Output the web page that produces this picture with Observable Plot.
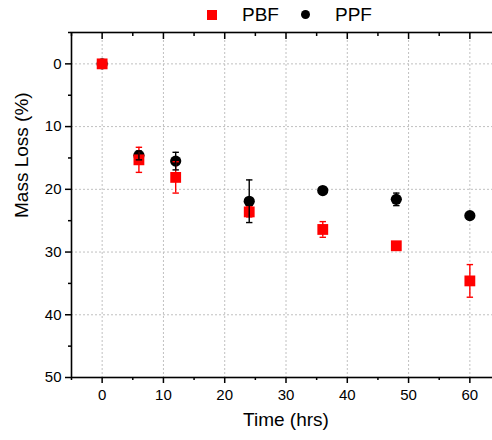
<!DOCTYPE html>
<html>
<head>
<meta charset="utf-8">
<script src="https://cdn.jsdelivr.net/npm/d3@7"></script>
<script src="https://cdn.jsdelivr.net/npm/@observablehq/plot@0.6"></script>
<style>
  html, body { margin: 0; padding: 0; overflow: hidden; background: #fff; width: 492px; height: 440px; }
  #wrap { position: relative; width: 500px; font-family: "Liberation Sans", Arial, sans-serif; }
  #legend { position: relative; height: 30px; }
  .lg { position: absolute; font-size: 19px; line-height: 19px; color: #000; }
  svg { display: block; }
</style>
</head>
<body>
<div id="wrap">
  <div id="legend"></div>
  <div id="chart"></div>
</div>
<script>
const times = [0, 6, 12, 24, 36, 48, 60];
const pbfMean = [0, 15.3, 18.1, 23.6, 26.4, 29.0, 34.6];
const pbfErr  = [0, 2.0, 2.5, 0.8, 1.25, 0.4, 2.6];
const ppfMean = [0, 14.6, 15.5, 21.9, 20.2, 21.6, 24.2];
const ppfErr  = [0, 0.7, 1.4, 3.4, 0.4, 1.0, 0.5];
const seriesNames = ["PBF", "PPF"];
const xMajor = [0, 10, 20, 30, 40, 50, 60];
const xMinor = [-5, 5, 15, 25, 35, 45, 55, 65];
const yMajor = [0, 10, 20, 30, 40, 50];
const yMinor = [-5, 5, 15, 25, 35, 45];

const pbf = times.map((t, i) => ({t, v: pbfMean[i], lo: pbfMean[i] - pbfErr[i], hi: pbfMean[i] + pbfErr[i], e: pbfErr[i]}));
const ppf = times.map((t, i) => ({t, v: ppfMean[i], lo: ppfMean[i] - ppfErr[i], hi: ppfMean[i] + ppfErr[i], e: ppfErr[i]}));

const cap = { draw(ctx) { ctx.moveTo(-3.2, 0); ctx.lineTo(3.2, 0); } };

function errMarks(data, color) {
  const d = data.filter(r => r.e > 0);
  return [
    Plot.ruleX(d, {x: "t", y1: "lo", y2: "hi", stroke: color, strokeWidth: 1.4}),
    Plot.dot(d, {x: "t", y: "lo", symbol: cap, stroke: color, fill: "none", strokeWidth: 1.4, r: 3}),
    Plot.dot(d, {x: "t", y: "hi", symbol: cap, stroke: color, fill: "none", strokeWidth: 1.4, r: 3})
  ];
}

const chart = Plot.plot({
  width: 500,
  height: 410,
  marginLeft: 71,
  marginRight: 0,
  marginTop: 2,
  marginBottom: 63,
  style: {fontFamily: "'Liberation Sans', Arial, sans-serif", color: "#000", background: "#fff"},
  x: {domain: [-5, 65]},
  y: {domain: [-5, 50], reverse: true},
  marks: [
    Plot.gridX(xMajor, {stroke: "#c0c0c0", strokeOpacity: 1, strokeDasharray: "2,2", strokeWidth: 1}),
    Plot.gridY(yMajor.filter(v => v < 50), {stroke: "#c0c0c0", strokeOpacity: 1, strokeDasharray: "2,2", strokeWidth: 1}),
    Plot.axisY({ticks: yMajor, tickSize: 6, tickPadding: 4, fontSize: 15, label: null, strokeWidth: 1.5}),
    Plot.axisY({ticks: yMinor, tickSize: 3, text: null, label: null, strokeWidth: 1.5}),
    Plot.axisX({ticks: xMajor, tickSize: 6, tickPadding: 6, fontSize: 15, label: null, strokeWidth: 1.5}),
    Plot.axisX({ticks: xMinor, tickSize: 3, text: null, label: null, strokeWidth: 1.5}),
    Plot.axisX({anchor: "top", ticks: xMajor, tickSize: 6, dy: 6, text: null, label: null, strokeWidth: 1.5}),
    Plot.axisX({anchor: "top", ticks: xMinor, tickSize: 3, dy: 3, text: null, label: null, strokeWidth: 1.5}),
    Plot.frame({stroke: "#000", strokeWidth: 1.6}),
    Plot.dot(ppf, {x: "t", y: "v", symbol: "circle", fill: "#000", r: 5.6}),
    Plot.dot(pbf, {x: "t", y: "v", symbol: "square", fill: "#ff0000", r: 6.1}),
    ...errMarks(pbf, "#ff0000"),
    ...errMarks(ppf, "#000"),
    Plot.text(["Time (hrs)"], {frameAnchor: "bottom", dy: 48, fontSize: 19, fill: "#000"}),
    Plot.text(["Mass Loss (%)"], {frameAnchor: "left", dx: -50, dy: 13, rotate: -90, fontSize: 19, fill: "#000"})
  ]
});
document.getElementById("chart").appendChild(chart);

const lg = document.getElementById("legend");
lg.innerHTML = `
  <div style="position:absolute;left:207px;top:10px;width:10px;height:10px;background:#ff0000"></div>
  <div class="lg" style="left:242px;top:5px">${seriesNames[0]}</div>
  <div style="position:absolute;left:301px;top:10px;width:9px;height:9px;border-radius:50%;background:#000"></div>
  <div class="lg" style="left:335px;top:5px">${seriesNames[1]}</div>
`;
</script>
</body>
</html>
